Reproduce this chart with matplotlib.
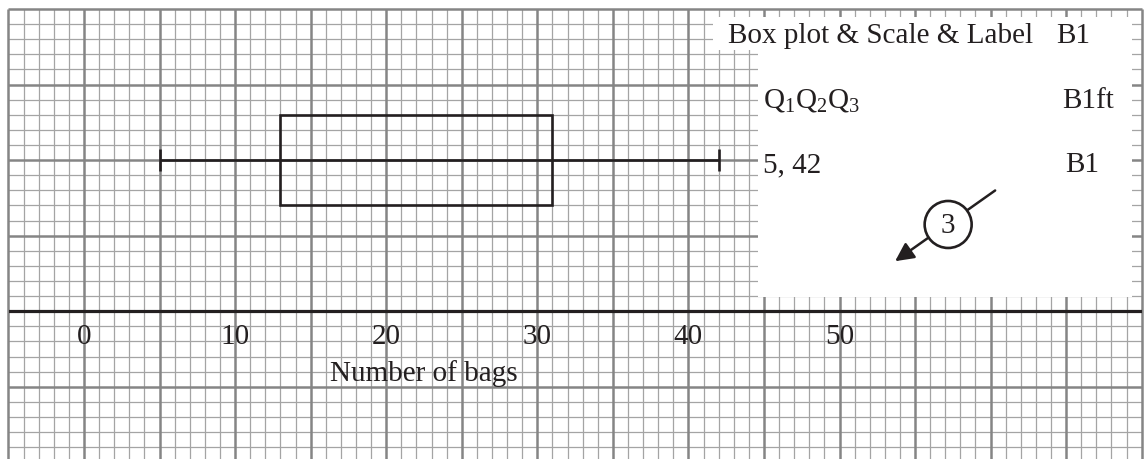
import matplotlib
matplotlib.use("Agg")
import matplotlib.pyplot as plt
from matplotlib.patches import Rectangle, Circle
import numpy as np

# box plot summary (number of bags)
whisker_low = 5
q1 = 13
q3 = 31
whisker_high = 42

tick_values = [0, 10, 20, 30, 40, 50]
axis_label = "Number of bags"

# mark scheme notes
notes = [
    ("Box plot & Scale & Label", "B1"),
    ("Q$_1$Q$_2$Q$_3$", "B1ft"),
    (f"{whisker_low}, {whisker_high}", "B1"),
]
total_marks = "3"

plt.rcParams["font.family"] = "Liberation Serif"
plt.rcParams["mathtext.fontset"] = "custom"
plt.rcParams["mathtext.rm"] = "Liberation Serif"

ink = "#231f20"
fs = 21

fig = plt.figure(figsize=(11.44, 4.59), dpi=100)
ax = fig.add_axes([8.5 / 1144, 0, 1133.2 / 1144, 450 / 459])
ax.set_xlim(-5, 70)
ax.set_ylim(-9.78, 20)
ax.axis("off")

# graph paper
xs = np.arange(-5, 71)
ys = np.arange(-9, 21)
minor_x = [x for x in xs if x % 5 != 0]
major_x = [x for x in xs if x % 5 == 0]
minor_y = [y for y in ys if y % 5 != 0]
major_y = [y for y in ys if y % 5 == 0 and y != 0]
ax.vlines(minor_x, -9.78, 20, color="#a4a4a4", lw=0.9, zorder=1)
ax.hlines(minor_y, -5, 70, color="#a4a4a4", lw=0.9, zorder=1)
ax.vlines(major_x, -9.78, 20, color="#858585", lw=1.8, zorder=1.5, clip_on=False)
ax.hlines(major_y, -5, 70, color="#858585", lw=1.8, zorder=1.5, clip_on=False)

# white area for the mark scheme
ax.add_patch(Rectangle((41.65, 17.27), 69.34 - 41.65, 19.48 - 17.27,
                       facecolor="white", edgecolor="none", zorder=2))
ax.add_patch(Rectangle((44.63, 0.95), 69.34 - 44.63, 19.48 - 0.95,
                       facecolor="white", edgecolor="none", zorder=2))

# number line
ax.axhline(0, color=ink, lw=2.3, zorder=3)
for v in tick_values:
    ax.text(v, -2.14, str(v), ha="center", va="baseline", fontsize=fs, color=ink, zorder=4)
ax.text(22.5, -4.61, axis_label, ha="center", va="baseline", fontsize=fs, color=ink, zorder=4)

# box plot
row = 10
ax.hlines(row, whisker_low, whisker_high, color=ink, lw=1.9, zorder=3)
ax.vlines([whisker_low, whisker_high], row - 0.75, row + 0.75, color=ink, lw=1.9, zorder=3)
ax.add_patch(Rectangle((q1, row - 3), q3 - q1, 6, facecolor="none",
                       edgecolor=ink, lw=1.9, zorder=3))

# mark scheme text
rows_y = [17.76, 13.45, 9.22]
left_x = [42.64, 44.96, 44.96]
right_x = [64.33, 64.71, 64.93]
for (txt, mark), y, lx, rx in zip(notes, rows_y, left_x, right_x):
    ax.text(lx, y, txt, ha="left", va="baseline", fontsize=fs, color=ink, zorder=4)
    ax.text(rx, y, mark, ha="left", va="baseline", fontsize=fs, color=ink, zorder=4)

ax.annotate("", xy=(53.68, 3.31), xytext=(60.30, 7.99),
            arrowprops=dict(arrowstyle="-|>", color=ink, lw=1.8,
                            mutation_scale=28, shrinkA=0, shrinkB=0), zorder=4)
ax.add_patch(Circle((57.19, 5.74), 1.555, facecolor="white", edgecolor=ink, lw=1.9, zorder=5))
ax.text(57.19, 5.2, total_marks, ha="center", va="baseline", fontsize=fs, color=ink, zorder=6)

fig.savefig("out.png", dpi=100, facecolor="white")
